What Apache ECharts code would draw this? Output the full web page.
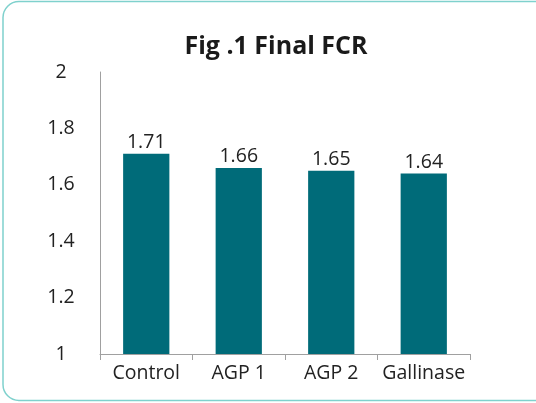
<!DOCTYPE html>
<html><head><meta charset="utf-8">
<script src="https://cdn.jsdelivr.net/npm/echarts@6/dist/echarts.min.js"></script>
<style>html,body{margin:0;padding:0;background:#fff}#c{width:536px;height:403px}</style>
</head><body><div id="c"></div>
<script>
const categories = ["Control", "AGP 1", "AGP 2", "Gallinase"];
const fcrValues = [1.71, 1.66, 1.65, 1.64];
const yTicks = [1, 1.2, 1.4, 1.6, 1.8, 2];

const chart = echarts.init(document.getElementById('c'), null, {renderer: 'canvas'});
const font = '"Open Sans", "Noto Sans", sans-serif';
chart.setOption({
  animation: false,
  backgroundColor: '#fff',
  title: {
    text: 'Fig .1 Final FCR', left: 271, top: 29, textAlign: 'center',
    textStyle: {fontFamily: font, fontWeight: 'bold', fontSize: 25, color: '#1a1a1a'}
  },
  graphic: [{
    type: 'rect', shape: {x: 3, y: 1.5, width: 560, height: 399, r: 16},
    style: {fill: 'none', stroke: '#7fd1cd', lineWidth: 1.5}, silent: true
  }],
  grid: {left: 100, right: 66, top: 72, bottom: 49},
  xAxis: {
    type: 'category', data: categories,
    axisLine: {lineStyle: {color: '#a0a0a0', width: 1}},
    axisTick: {show: true, length: 6, lineStyle: {color: '#a0a0a0'}},
    axisLabel: {fontFamily: font, fontSize: 19.5, color: '#222', margin: 9, interval: 0}
  },
  yAxis: {
    type: 'value', min: yTicks[0], max: yTicks[yTicks.length - 1], interval: 0.2,
    axisLine: {show: true, lineStyle: {color: '#a0a0a0', width: 1}},
    axisTick: {show: false},
    splitLine: {show: false},
    axisLabel: {
      fontFamily: font, fontSize: 19.5, color: '#222', margin: 39, align: 'center',
      formatter: v => String(Math.round(v * 10) / 10)
    }
  },
  series: [{
    type: 'bar', data: fcrValues, barWidth: '50%',
    itemStyle: {color: '#006b79'},
    label: {show: true, position: 'top', distance: 1, fontFamily: font, fontSize: 19.5, color: '#222'}
  }]
});
</script></body></html>
